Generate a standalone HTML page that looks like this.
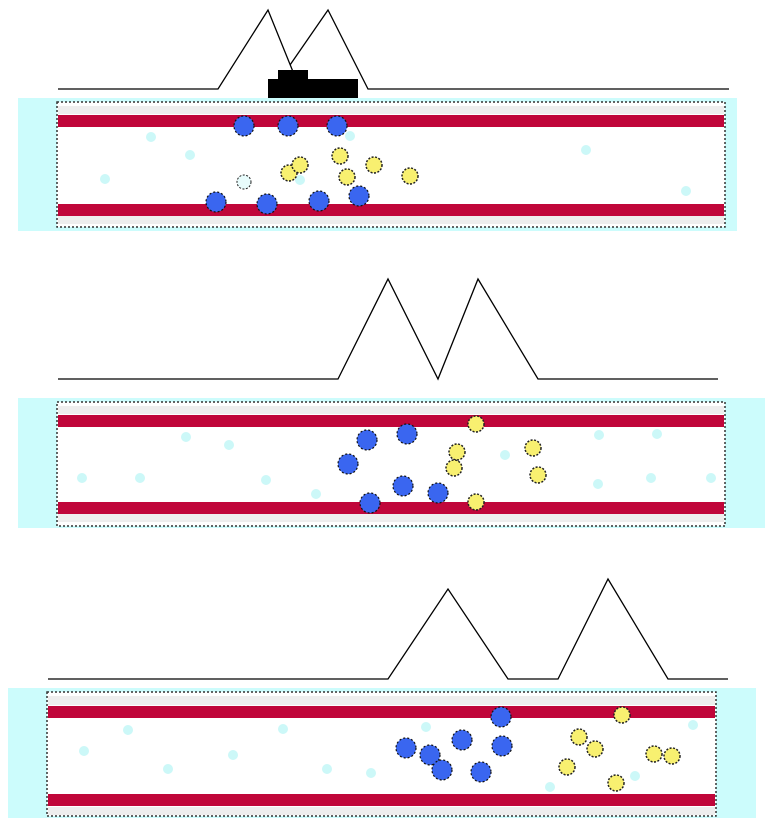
<!DOCTYPE html>
<html><head><style>body{margin:0;background:#fff}svg{display:block}</style></head><body>
<svg width="773" height="828" viewBox="0 0 773 828" xmlns="http://www.w3.org/2000/svg">
<defs>
<g id="b"><circle r="10" fill="#3a66f0" stroke="#111" stroke-width="1.2" stroke-dasharray="2 2"/></g>
<g id="y"><circle r="8" fill="#f8f070" stroke="#222" stroke-width="1.5" stroke-dasharray="2 1.5"/></g>
<g id="c"><circle r="5" fill="#ccf8f8"/></g>
</defs>
<g fill="none" stroke="#000" stroke-width="1.3">
<polyline points="58,89 218,89 268,10 300,89"/>
<polyline points="290,65 328,10 368,89 729,89"/>
<polyline points="58,379 338,379 388,279 438,379 478,279 538,379 718,379"/>
<polyline points="48,679 388,679 448,589 508,679 558,679 608,579 668,679 728,679"/>
</g>
<rect x="278" y="70" width="30" height="12" fill="#000"/>
<rect x="268" y="79" width="90" height="19" fill="#000"/>

<!-- panel 1 -->
<rect x="18" y="98" width="719" height="133" fill="#ccfcfc"/>
<rect x="57" y="102" width="668" height="125" fill="#fff" stroke="#333" stroke-width="1.5" stroke-dasharray="2 2"/>
<rect x="58" y="106" width="666" height="8" fill="#eee"/><rect x="58" y="216" width="666" height="8" fill="#eee"/>
<rect x="58" y="115" width="666" height="12" fill="#c0063a"/>
<rect x="58" y="204" width="666" height="12" fill="#c0063a"/>
<g>
<use href="#c" x="151" y="137"/><use href="#c" x="190" y="155"/><use href="#c" x="105" y="179"/><use href="#c" x="586" y="150"/><use href="#c" x="686" y="191"/><use href="#c" x="300" y="180"/><use href="#c" x="350" y="136"/>
<use href="#b" x="244" y="126"/><use href="#b" x="288" y="126"/><use href="#b" x="337" y="126"/>
<use href="#b" x="216" y="202"/><use href="#b" x="267" y="204"/><use href="#b" x="319" y="201"/><use href="#b" x="359" y="196"/>
<circle cx="244" cy="182" r="7" fill="#e8fcfc" stroke="#222" stroke-dasharray="2 1.5"/>
<use href="#y" x="289" y="173"/><use href="#y" x="300" y="165"/><use href="#y" x="340" y="156"/><use href="#y" x="347" y="177"/><use href="#y" x="374" y="165"/><use href="#y" x="410" y="176"/>
</g>

<!-- panel 2 -->
<rect x="18" y="398" width="747" height="130" fill="#ccfcfc"/>
<rect x="57" y="402" width="668" height="124" fill="#fff" stroke="#333" stroke-width="1.5" stroke-dasharray="2 2"/>
<rect x="58" y="406" width="666" height="8" fill="#eee"/><rect x="58" y="514" width="666" height="8" fill="#eee"/>
<rect x="58" y="415" width="666" height="12" fill="#c0063a"/>
<rect x="58" y="502" width="666" height="12" fill="#c0063a"/>
<use href="#c" x="186" y="437"/><use href="#c" x="229" y="445"/><use href="#c" x="82" y="478"/><use href="#c" x="140" y="478"/><use href="#c" x="266" y="480"/><use href="#c" x="316" y="494"/><use href="#c" x="505" y="455"/><use href="#c" x="599" y="435"/><use href="#c" x="657" y="434"/><use href="#c" x="598" y="484"/><use href="#c" x="651" y="478"/><use href="#c" x="711" y="478"/>
<use href="#b" x="367" y="440"/><use href="#b" x="407" y="434"/><use href="#b" x="348" y="464"/><use href="#b" x="403" y="486"/><use href="#b" x="370" y="503"/><use href="#b" x="438" y="493"/>
<use href="#y" x="476" y="424"/><use href="#y" x="457" y="452"/><use href="#y" x="454" y="468"/><use href="#y" x="533" y="448"/><use href="#y" x="538" y="475"/><use href="#y" x="476" y="502"/>

<!-- panel 3 -->
<rect x="8" y="688" width="748" height="130" fill="#ccfcfc"/>
<rect x="47" y="692" width="669" height="124" fill="#fff" stroke="#333" stroke-width="1.5" stroke-dasharray="2 2"/>
<rect x="48" y="696" width="667" height="9" fill="#eee"/><rect x="48" y="807" width="667" height="8" fill="#eee"/>
<rect x="48" y="706" width="667" height="12" fill="#c0063a"/>
<rect x="48" y="794" width="667" height="12" fill="#c0063a"/>
<use href="#c" x="84" y="751"/><use href="#c" x="128" y="730"/><use href="#c" x="168" y="769"/><use href="#c" x="233" y="755"/><use href="#c" x="283" y="729"/><use href="#c" x="327" y="769"/><use href="#c" x="371" y="773"/><use href="#c" x="426" y="727"/><use href="#c" x="550" y="787"/><use href="#c" x="635" y="776"/><use href="#c" x="693" y="725"/>
<use href="#b" x="501" y="717"/><use href="#b" x="406" y="748"/><use href="#b" x="430" y="755"/><use href="#b" x="462" y="740"/><use href="#b" x="502" y="746"/><use href="#b" x="442" y="770"/><use href="#b" x="481" y="772"/>
<use href="#y" x="622" y="715"/><use href="#y" x="579" y="737"/><use href="#y" x="595" y="749"/><use href="#y" x="567" y="767"/><use href="#y" x="616" y="783"/><use href="#y" x="654" y="754"/><use href="#y" x="672" y="756"/>
</svg>
</body></html>
